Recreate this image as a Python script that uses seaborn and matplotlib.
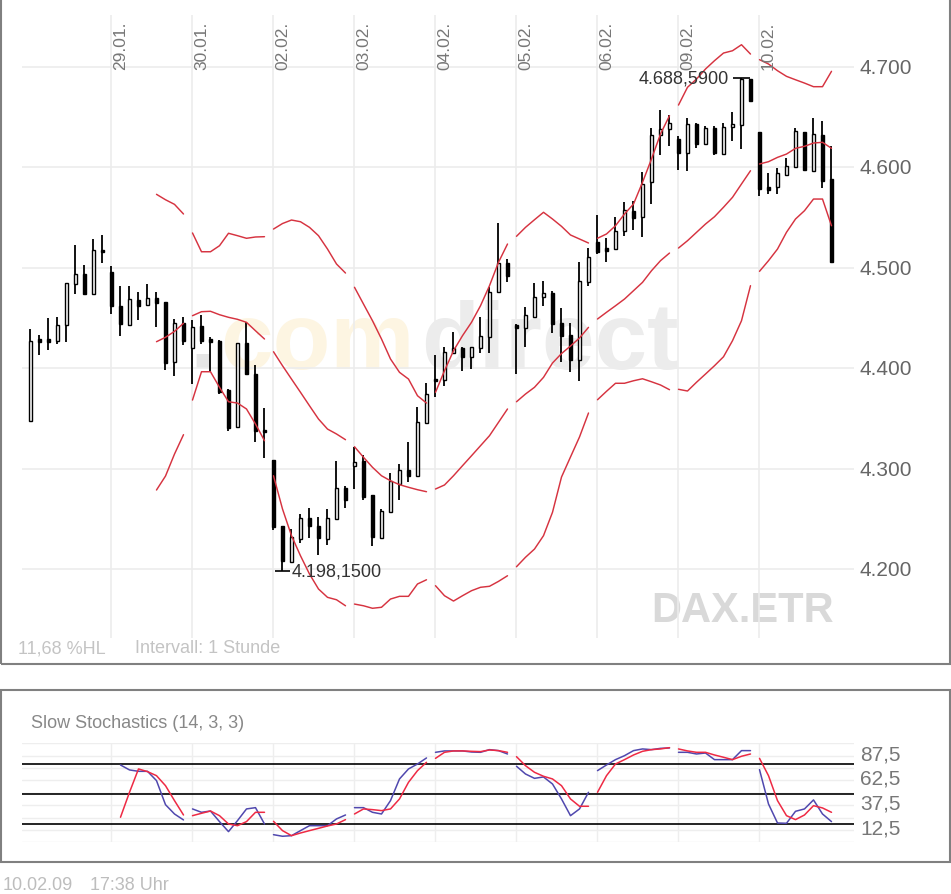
import matplotlib
matplotlib.use("Agg")
import matplotlib.pyplot as plt
from matplotlib.patches import Rectangle
import numpy as np
import pandas as pd
import seaborn as sns

sns.set_theme(style="white")
plt.rcParams["font.family"] = "Liberation Sans"

# hourly DAX candles, 9 per session
opens = [4347.1, 4428.8, 4429, 4426.8, 4443, 4484.2, 4493.8, 4473.9, 4518,
         4495.5, 4462.2, 4443.3, 4468.2, 4463.2, 4470, 4465.6, 4406.5, 4445,
         4419.8, 4442, 4429, 4427.4, 4378.6, 4341, 4425.4, 4393.9, 4338.7,
         4308.9, 4243.1, 4206.7, 4229.9, 4250.5, 4243.1, 4229.9, 4249.8, 4281,
         4302.3, 4307.3, 4273.7, 4230.6, 4257.1, 4284.7, 4298.6, 4292.9, 4345.4,
         4389.2, 4388.5, 4414.8, 4420, 4411.4, 4419.8, 4430.8, 4475.6, 4504.5,
         4443.3, 4439.7, 4451.3, 4471.2, 4474.6, 4444.7, 4433, 4408.5, 4485.5,
         4525.4, 4519.4, 4518.7, 4536.3, 4556.3, 4550.3, 4585.1, 4632.6, 4638.2,
         4628.3, 4614.3, 4643.2, 4623.3, 4638.9, 4613.3, 4639.9, 4642.5, 4688,
         4635.5, 4580.5, 4580.2, 4592.7, 4600, 4635.5, 4596.1, 4632.6, 4588.4]
closes = [4426.8, 4425.8, 4426, 4443.3, 4484.9, 4493.8, 4473.6, 4517.7, 4515.7,
          4461.6, 4444, 4469, 4462, 4470, 4465, 4405.2, 4444.7, 4426.8,
          4440.7, 4426.8, 4426, 4376, 4340, 4425.1, 4394.2, 4337.7, 4336.8,
          4241.5, 4207.7, 4231.6, 4250.8, 4242.5, 4230.6, 4250.5, 4280.4, 4269,
          4306.9, 4271.4, 4231.6, 4258, 4287.3, 4298.9, 4292.9, 4346.1, 4374.3,
          4387, 4416.4, 4420, 4411.4, 4420.8, 4431.8, 4476.2, 4504.5, 4492.1,
          4439.7, 4453.3, 4471.2, 4474.6, 4444, 4432.1, 4408.5, 4486.5, 4510.4,
          4516, 4517, 4537, 4557.6, 4549.6, 4583.5, 4632.6, 4638.5, 4643.9,
          4614.3, 4643.2, 4623.3, 4638.9, 4614, 4640.5, 4642.9, 4688, 4666.4,
          4578.5, 4577.8, 4594.1, 4601.7, 4636.5, 4597.7, 4633.3, 4586.7, 4505.5]
highs = [4439, 4433, 4449.7, 4451, 4485, 4522.7, 4502.8, 4528.4, 4533,
         4501.5, 4482.2, 4482.2, 4476.2, 4483.9, 4475.6, 4465.6, 4449, 4450.7,
         4448, 4453.3, 4431.4, 4428, 4379.3, 4425.1, 4446.3, 4403.2, 4360,
         4308.9, 4243.1, 4239.8, 4255, 4260.5, 4251.5, 4259.8, 4307.3, 4283,
         4321.8, 4313.8, 4273.7, 4259.8, 4295.3, 4304.3, 4326.8, 4361, 4385,
         4413.4, 4420.8, 4435.7, 4420.8, 4420.8, 4450.7, 4480.6, 4544.6, 4508.8,
         4444, 4460.6, 4484.9, 4486.5, 4477.2, 4459.7, 4445, 4506, 4519.4,
         4552.6, 4529.7, 4550.9, 4565.8, 4566.2, 4595.7, 4638.9, 4657.2, 4652.2,
         4631, 4649.2, 4644.2, 4640.9, 4641.2, 4644.5, 4654.9, 4688.59, 4688,
         4635.5, 4594.1, 4599.1, 4609, 4638.9, 4635.5, 4649.2, 4646.5, 4621]
lows = [4347.1, 4413.4, 4418, 4424, 4425.8, 4473.6, 4473.6, 4473.9, 4504.5,
        4454, 4431.8, 4442, 4448, 4463.2, 4440.7, 4398.5, 4392.5, 4423.4,
        4384.3, 4424, 4396.5, 4374.3, 4337.7, 4341, 4394.2, 4326.2, 4310.6,
        4239.1, 4198.15, 4206.7, 4225.9, 4230.6, 4213.9, 4223.9, 4249.8, 4260.5,
        4279.7, 4269, 4222.6, 4230.6, 4257.1, 4269, 4287, 4292.9, 4345.4,
        4371, 4382.6, 4414.8, 4397.5, 4399.2, 4415, 4415, 4475.6, 4485.5,
        4394.2, 4421.4, 4451.3, 4461.6, 4434.8, 4406.5, 4395.9, 4386.9, 4482.2,
        4513.7, 4505.5, 4518.7, 4532, 4537.9, 4530.4, 4563.5, 4612.3, 4621.6,
        4597.7, 4596.1, 4619, 4623.3, 4612.3, 4613.3, 4626, 4618.3, 4666.4,
        4571.8, 4573.5, 4573.5, 4592.7, 4600, 4597.7, 4596.1, 4579.5, 4505.5]

# Bollinger bands start at candle 14
band_start = 14
band_upper = [4573.2, 4567.8, 4563.2, 4553.6,
              4534.7, 4516, 4516, 4522, 4534.4, 4532, 4529.4, 4530.7, 4531,
              4538.6, 4544.1, 4547.6, 4545.9, 4540.3, 4532, 4518.7, 4503.8, 4494.8,
              4480.6, 4463.9, 4447.3, 4429.1, 4409.2, 4395.9, 4389.2, 4372.6, 4365.3,
              4376, 4397.5, 4417.4, 4432.4, 4445.7, 4462.2, 4482.2, 4505.5, 4523.7,
              4531.4, 4540.3, 4547.9, 4555.3, 4548.6, 4541.3, 4532.7, 4528.7, 4524.7,
              4529.4, 4533.7, 4541.9, 4553.6, 4563.5, 4585.1, 4608.4, 4633.3, 4651.5,
              4662.1, 4679.8, 4688, 4698, 4706.3, 4713.9, 4716.2, 4722.2, 4712.9,
              4707.3, 4703, 4696.3, 4690.7, 4687.3, 4684, 4680.4, 4680.4, 4695.7]
band_mid = [4426.4, 4430.8, 4436.7, 4444.7,
            4452.3, 4456.3, 4456.7, 4453.3, 4450.7, 4448.7, 4445.7, 4437.3, 4429.1,
            4416.4, 4402.5, 4389.2, 4376, 4362.6, 4349.4, 4339.4, 4334.5, 4328.8,
            4321.8, 4311.3, 4301.3, 4292.9, 4287.9, 4284, 4281.4, 4279, 4277,
            4279.7, 4283.7, 4292.9, 4302.9, 4312.8, 4322.8, 4332.8, 4346.1, 4359.4,
            4366.6, 4374.3, 4381, 4390.9, 4405.2, 4414.6, 4422.1, 4430.1, 4440.7,
            4449, 4455.7, 4462.2, 4468.9, 4477.2, 4485.5, 4497.1, 4507.1, 4514.7,
            4519.7, 4527, 4535.3, 4543.6, 4550.9, 4560.3, 4570.2, 4583.5, 4596.7,
            4603.4, 4605.7, 4610, 4613.3, 4619, 4621, 4624.3, 4625, 4619]
band_lower = [4278.7, 4292.6, 4314.5, 4333.8,
              4368.3, 4396.5, 4396.5, 4381, 4366.6, 4365.3, 4359.4, 4344.4, 4327.8,
              4292.9, 4259.8, 4233.2, 4213.2, 4195, 4180.1, 4171.8, 4169.4, 4163.4,
              4165.1, 4163.4, 4160.9, 4161.9, 4170.1, 4172.8, 4172.8, 4185.1, 4189.3,
              4183.4, 4173.4, 4168.1, 4173.4, 4178.4, 4181.8, 4182.8, 4187.7, 4193.3,
              4202.3, 4211.7, 4219.9, 4233.2, 4256.5, 4291.6, 4311.6, 4331.5, 4355.4,
              4368.6, 4377, 4385, 4385, 4387.5, 4389.5, 4386.5, 4383.3, 4378.6,
              4379, 4377.3, 4386, 4394.2, 4402.5, 4411.4, 4427.4, 4447.3, 4482.2,
              4496.5, 4507.1, 4518.7, 4535.4, 4548.6, 4556.9, 4568.5, 4568.5, 4541.9]

# slow stochastics start at candle 10
stoch_start = 10
stoch_k = [78.1, 73.1, 71.7, 71.7, 62.3, 38, 28.6, 22.6,
           33.7, 30.3, 31.6, 20.9, 10.8, 21.9, 33.7, 35, 18.5,
           7.7, 6.1, 6.7, 11.8, 16.8, 16.8, 16.8, 23.6, 27.6,
           35, 35, 30.3, 28.6, 42.1, 64, 74.1, 79.1, 85.2,
           90.9, 92.3, 92.3, 92.3, 91.2, 90.9, 93.6, 92.6, 89.2,
           76.8, 69, 64.6, 66, 58.9, 43.8, 26.9, 33.7, 50.5,
           72.4, 78.1, 83.5, 87.5, 92.6, 94.3, 93.6, 94.9, 95.3,
           90.9, 90.9, 89.2, 90.2, 83.5, 83.5, 83.5, 92.6, 92.6,
           73.4, 38.7, 19.5, 19.2, 31.3, 33.7, 42.8, 28.6, 20.9]
stoch_d = [25.3, 50.5, 74.1, 71.4, 67.3, 57.2, 42.1, 27.6,
           26.9, 29.3, 31.6, 26.9, 18.5, 16.8, 20.9, 30.3, 30.3,
           21.2, 11.8, 6.7, 9.4, 11.8, 14.1, 16.5, 18.5, 22.9,
           28.6, 33.7, 33, 32, 33.7, 43.8, 60.6, 72.4, 80.8,
           84.8, 90.9, 92.3, 92.3, 91.9, 91.6, 93.3, 92.6, 90.9,
           86.5, 77.4, 70.7, 66.7, 64, 57.2, 43.8, 36.4, 36.4,
           50.5, 67.3, 79.1, 83.5, 88.2, 91.9, 93.6, 94.3, 95.6,
           94.3, 92.3, 90.9, 90.9, 88.2, 85.9, 83.5, 86.9, 89.2,
           84.8, 67.3, 42.1, 26.9, 22.9, 27.6, 37, 34.7, 30.3]

day_labels = ["29.01.", "30.01.", "02.02.", "03.02.", "04.02.",
              "05.02.", "06.02.", "09.02.", "10.02."]
price_ticks = [4200, 4300, 4400, 4500, 4600, 4700]
price_labels = ["4.200", "4.300", "4.400", "4.500", "4.600", "4.700"]
stoch_grid = [0, 12.5, 25, 37.5, 50, 62.5, 75, 87.5, 100]
stoch_ticks = [12.5, 37.5, 62.5, 87.5]
stoch_labels = ["12,5", "37,5", "62,5", "87,5"]
stoch_levels = [18.2, 48.5, 78.8]

W, H = 951, 895
SESSION = 9
GRID = "#ececec"


def px_axes(fig, left, top, right, bottom):
    # axes from pixel edges
    return fig.add_axes([left / W, 1 - bottom / H, (right - left) / W, (bottom - top) / H],
                        facecolor="none")


def px_text(fig, x, y, s, **kw):
    kw.setdefault("va", "center")
    kw.setdefault("zorder", -1)
    fig.text(x / W, 1 - y / H, s, **kw)


def long_lines(series, start):
    # one row per point, split by session so the lines break between days
    rows = []
    for name, vals in series.items():
        x = np.arange(start, start + len(vals))
        rows.append(pd.DataFrame({"x": x, "y": vals, "line": name,
                                  "seg": [f"{name}{i // SESSION}" for i in x]}))
    return pd.concat(rows, ignore_index=True)


def de_number(v):
    return f"{v:,.4f}".replace(",", "#").replace(".", ",").replace("#", ".")


fig = plt.figure(figsize=(W / 100, H / 100), dpi=100)

for top, bottom in [(-2, 664.5), (690.5, 862.5)]:
    fig.add_artist(Rectangle((1 / W, 1 - bottom / H), 948.5 / W, (bottom - top) / H,
                             fill=False, ec="#808080", lw=1.5, zorder=-2,
                             transform=fig.transFigure))

# watermark
px_text(fig, 189, 368, ".", color="#e6e6e6", fontsize=70, fontweight="bold", va="baseline")
px_text(fig, 220, 369, "com", color="#fdf5e2", fontsize=68, fontweight="bold", va="baseline")
px_text(fig, 421, 369, "direct", color="#ececec", fontsize=68, fontweight="bold", va="baseline")
px_text(fig, 651, 622.5, "DAX.ETR", color="#d9d9d9", fontsize=30, fontweight="bold", va="baseline")

# price panel
ax = px_axes(fig, 22, 16, 854, 639)
idx = np.arange(len(opens))
opens_a, closes_a = np.array(opens), np.array(closes)
up = closes_a >= opens_a
ax.vlines(idx, lows, highs, color="black", lw=1.3, zorder=3)
ax.bar(idx, np.abs(closes_a - opens_a), bottom=np.minimum(opens_a, closes_a), width=0.43,
       color=np.where(up, "white", "black"), edgecolor="black", linewidth=1.0, zorder=4)

bands = long_lines({"upper": band_upper, "mid": band_mid, "lower": band_lower}, band_start)
sns.lineplot(data=bands, x="x", y="y", units="seg", estimator=None, color="#d63340",
             linewidth=1.05, legend=False, ax=ax, zorder=5)

# high and low of the period
i_hi, i_lo = int(np.argmax(highs)), int(np.argmin(lows))
ax.hlines(highs[i_hi], i_hi - 0.9, i_hi + 0.9, color="black", lw=1.2, zorder=4)
ax.hlines(lows[i_lo], i_lo - 0.85, i_lo + 0.85, color="black", lw=1.2, zorder=4)
ax.text(i_hi - 1.4, highs[i_hi], de_number(highs[i_hi]),
        ha="right", va="center", fontsize=13, color="#333333", zorder=6)
ax.text(i_lo + 1.0, lows[i_lo], de_number(lows[i_lo]),
        ha="left", va="center", fontsize=13, color="#333333", zorder=6)

day_ticks = [SESSION * (i + 1) for i in range(len(day_labels))]
for k, lab in zip(day_ticks, day_labels):
    ax.text(k + 1, 4698, lab, rotation=90, ha="center", va="bottom", fontsize=12.5,
            color="#777777", zorder=6)

ax.set_xlim(-0.944, 91.5)
ax.set_ylim(4131.3, 4751.8)
ax.set_xticks(day_ticks)
ax.set_xticklabels([])
ax.set_yticks(price_ticks)
ax.set_yticklabels([])
ax.set_xlabel("")
ax.set_ylabel("")
ax.grid(True, color=GRID, lw=1.2)
ax.set_axisbelow(True)
ax.tick_params(axis="both", length=0)
sns.despine(ax=ax, left=True, bottom=True, right=True, top=True)
for v, lab in zip(price_ticks, price_labels):
    ax.text(1.0072, v - 0.5, lab, transform=ax.get_yaxis_transform(), ha="left", va="center",
            fontsize=15, color="#666666")

px_text(fig, 18, 648.5, "11,68 %HL", color="#c4c4c4", fontsize=13)
px_text(fig, 135, 648.5, "Intervall: 1 Stunde", color="#c4c4c4", fontsize=13)

# stochastics panel
ax2 = px_axes(fig, 22, 744.3, 854, 843.3)
ax2.hlines(stoch_levels, 0, 1, transform=ax2.get_yaxis_transform(), color="black", lw=1.2, zorder=3)
lines = long_lines({"k": stoch_k, "d": stoch_d}, stoch_start)
sns.lineplot(data=lines, x="x", y="y", hue="line", units="seg", estimator=None,
             palette={"k": "#5048ae", "d": "#ee2a44"}, linewidth=1.1, legend=False, ax=ax2, zorder=4)

ax2.set_xlim(-0.944, 91.5)
ax2.set_ylim(0, 100)
ax2.set_xticks(day_ticks)
ax2.set_xticklabels([])
ax2.set_yticks(stoch_grid)
ax2.set_yticklabels([])
ax2.set_xlabel("")
ax2.set_ylabel("")
ax2.grid(True, color="#eeeeee", lw=1.0)
ax2.set_axisbelow(True)
ax2.tick_params(axis="both", length=0)
sns.despine(ax=ax2, left=True, bottom=True, right=True, top=True)
for v, lab in zip(stoch_ticks, stoch_labels):
    ax2.text(1.0075, v + 2, lab, transform=ax2.get_yaxis_transform(), ha="left", va="center",
             fontsize=15, color="#777777")

px_text(fig, 31, 723.5, "Slow Stochastics (14, 3, 3)", color="#888888", fontsize=13)
px_text(fig, 3, 885.5, "10.02.09", color="#bdbdbd", fontsize=13)
px_text(fig, 90, 885.5, "17:38 Uhr", color="#bdbdbd", fontsize=13)

fig.savefig("out.png", dpi=100, facecolor="white")
